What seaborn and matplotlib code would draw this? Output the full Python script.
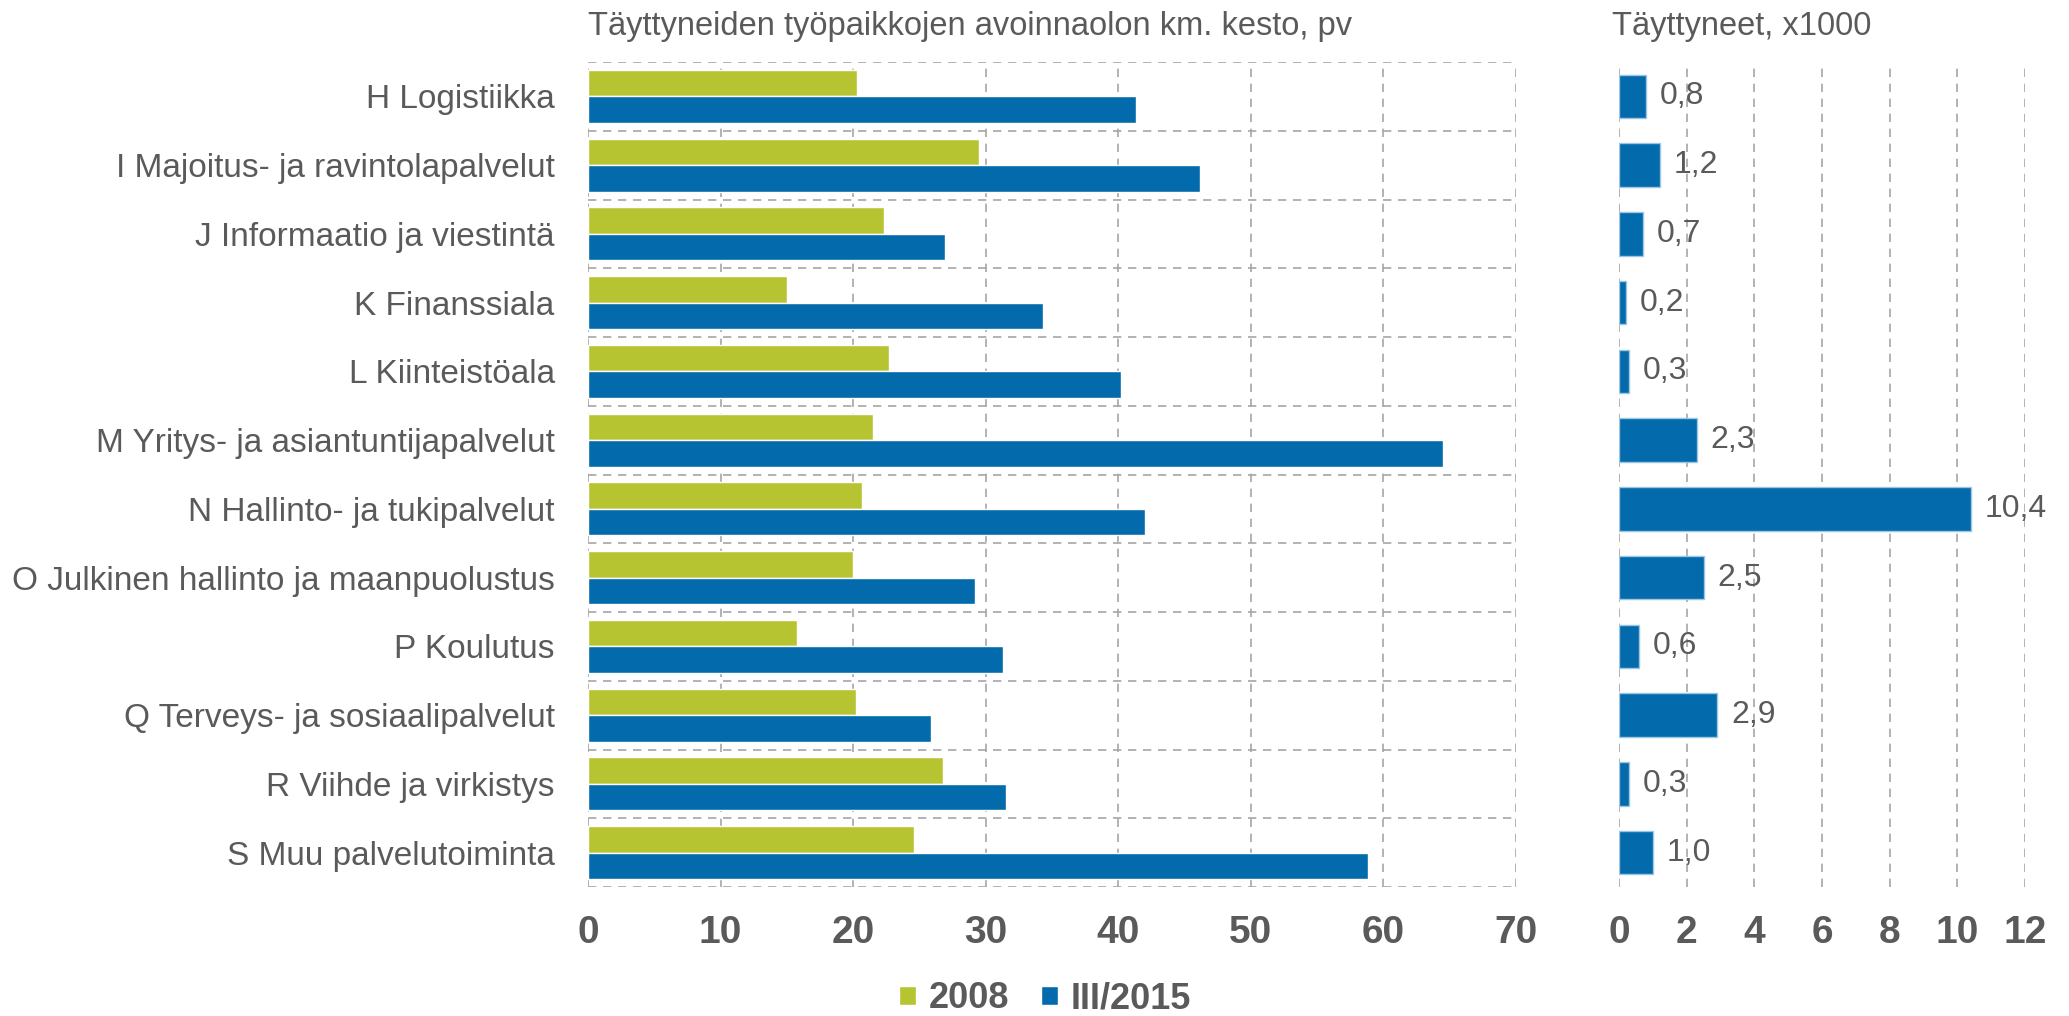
import pandas as pd
import matplotlib
matplotlib.use("Agg")
import matplotlib.pyplot as plt
from matplotlib.patches import Patch
import seaborn as sns

toimialat = [
    "H Logistiikka",
    "I Majoitus- ja ravintolapalvelut",
    "J Informaatio ja viestintä",
    "K Finanssiala",
    "L Kiinteistöala",
    "M Yritys- ja asiantuntijapalvelut",
    "N Hallinto- ja tukipalvelut",
    "O Julkinen hallinto ja maanpuolustus",
    "P Koulutus",
    "Q Terveys- ja sosiaalipalvelut",
    "R Viihde ja virkistys",
    "S Muu palvelutoiminta",
]
kesto_2008 = [20.3, 29.5, 22.3, 15.0, 22.7, 21.5, 20.7, 20.0, 15.8, 20.2, 26.8, 24.6]
kesto_2015 = [41.3, 46.2, 26.9, 34.3, 40.2, 64.5, 42.0, 29.2, 31.3, 25.9, 31.5, 58.8]
taytetyt = [0.8, 1.2, 0.7, 0.2, 0.3, 2.3, 10.4, 2.5, 0.6, 2.9, 0.3, 1.0]
sarjat = ["2008", "III/2015"]

x_ticks_left = [0, 10, 20, 30, 40, 50, 60, 70]
x_ticks_right = [0, 2, 4, 6, 8, 10, 12]

GREEN = "#B7C431"
BLUE = "#036AAB"
TEXT = "#5A5A5A"
GRID = "#A6A6A6"

sns.set_theme(style="white")
plt.rcParams["font.family"] = ["Liberation Sans", "DejaVu Sans"]

df = pd.DataFrame({
    "toimiala": toimialat * 2,
    "kesto": kesto_2008 + kesto_2015,
    "sarja": [sarjat[0]] * 12 + [sarjat[1]] * 12,
})
df_r = pd.DataFrame({"toimiala": toimialat, "lkm": taytetyt})

W, H = 2069, 1016
fig = plt.figure(figsize=(W / 100, H / 100), dpi=100)
ax1 = fig.add_axes([588 / W, 1 - 887 / H, 928 / W, 825 / H])
ax2 = fig.add_axes([1619 / W, 1 - 887 / H, 406 / W, 825 / H])

# left panel: average duration of open vacancies
sns.barplot(data=df, y="toimiala", x="kesto", hue="sarja", orient="h",
            palette=[GREEN, BLUE], saturation=1, width=0.77,
            edgecolor="white", linewidth=1, legend=False, ax=ax1)
ax1.set_xlim(0, 70)
ax1.set_ylim(11.5, -0.5)
ax1.set_xticks(x_ticks_left)
ax1.set_yticks(range(12), toimialat)
ax1.set_yticks([i - 0.5 for i in range(13)], minor=True)
ax1.grid(axis="x", which="major", color=GRID, linestyle=(0, (5, 4)), lw=1.2)
ax1.grid(axis="y", which="minor", color=GRID, linestyle=(0, (5, 4)), lw=1.2)
ax1.grid(axis="y", which="major", visible=False)
ax1.set_axisbelow(True)
ax1.set_xlabel("")
ax1.set_ylabel("")
ax1.tick_params(axis="y", which="both", length=0, pad=24, labelsize=24,
                labelcolor=TEXT)
ax1.tick_params(axis="x", length=0, pad=20, labelsize=28, labelcolor=TEXT)
for lab in ax1.get_xticklabels():
    lab.set_fontweight("bold")
for s in ax1.spines.values():
    s.set_visible(False)

# right panel: filled vacancies, thousands
sns.barplot(data=df_r, y="toimiala", x="lkm", orient="h", color=BLUE,
            saturation=1, width=0.63, edgecolor="#9CC6E4", linewidth=1,
            ax=ax2)
ax2.set_xlim(0, 12)
ax2.set_ylim(11.5, -0.5)
ax2.set_xticks(x_ticks_right)
ax2.set_yticks([])
ax2.grid(axis="x", color=GRID, linestyle=(0, (5, 4)), lw=1.2)
ax2.grid(axis="y", visible=False)
ax2.set_axisbelow(True)
ax2.set_xlabel("")
ax2.set_ylabel("")
ax2.tick_params(axis="x", length=0, pad=20, labelsize=28, labelcolor=TEXT)
for lab in ax2.get_xticklabels():
    lab.set_fontweight("bold")
for s in ax2.spines.values():
    s.set_visible(False)
ax2.bar_label(ax2.containers[0],
              labels=[f"{v:.1f}".replace(".", ",") for v in taytetyt],
              padding=10, fontsize=23, color=TEXT)

fig.text(588 / W, 1 - 26 / H, "Täyttyneiden työpaikkojen avoinnaolon km. kesto, pv",
         fontsize=23.5, color=TEXT, va="center", ha="left")
fig.text(1612 / W, 1 - 26 / H, "Täyttyneet, x1000",
         fontsize=23.5, color=TEXT, va="center", ha="left")

handles = [Patch(facecolor=GREEN), Patch(facecolor=BLUE)]
leg = fig.legend(handles, sarjat, loc="center", ncol=2, frameon=False,
                 bbox_to_anchor=(1045 / W, 1 - 999 / H),
                 prop={"size": 26, "weight": "bold"},
                 handlelength=0.45, handleheight=0.45, handletextpad=0.35,
                 columnspacing=0.9)
for t in leg.get_texts():
    t.set_color(TEXT)

fig.savefig("out.png", dpi=100)
